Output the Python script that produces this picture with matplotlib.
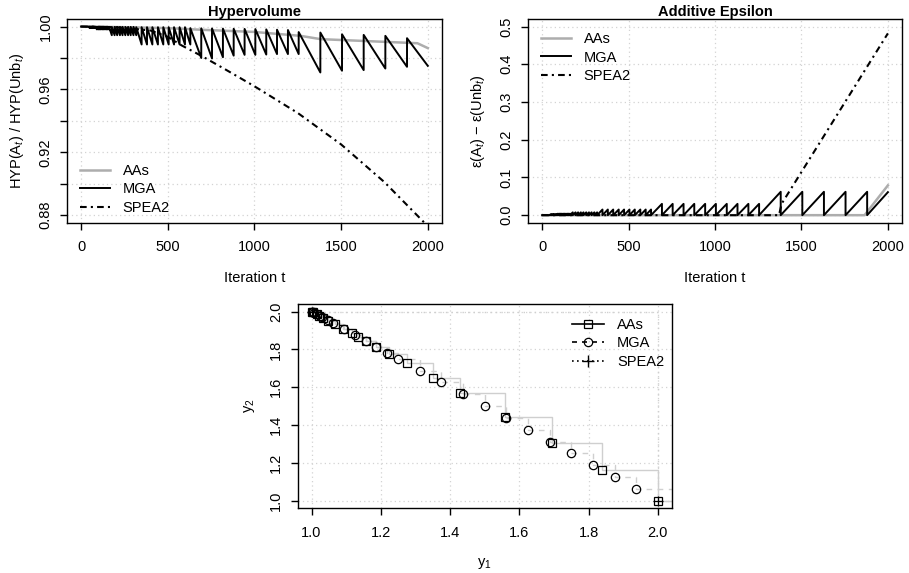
import matplotlib
matplotlib.use("Agg")
import matplotlib.pyplot as plt
from matplotlib.lines import Line2D

plt.rcParams['font.family'] = ['Liberation Sans', 'DejaVu Sans']
plt.rcParams['mathtext.fontset'] = 'custom'
plt.rcParams['mathtext.rm'] = 'Liberation Sans'
plt.rcParams['mathtext.it'] = 'Liberation Sans:italic'
plt.rcParams['font.size'] = 10.5

# ---------------------------------------------------------------- data
# MGA archive rebuilds (grid coarsening), one list of iterations per grid level
mga_jumps_l5 = [44, 48, 52, 56, 60, 64, 67, 71, 75, 79, 83]
mga_jumps_l4 = [83, 91, 99, 107, 114, 122, 130, 138, 146, 153, 161]
mga_jumps_l3 = [161, 177, 193, 208, 224, 239, 255, 271, 286, 302, 318]
mga_jumps_l2 = [318, 349, 380, 411, 443, 474, 505, 536, 568, 599, 630]
mga_jumps_l1 = [630, 693, 755, 818, 880, 943, 1005, 1068, 1130, 1193, 1255]
mga_jumps_l0 = [1255, 1380, 1505, 1630, 1755, 1880, 2000]

# hypervolume ratio of MGA right after a rebuild (peak) and just before the next (trough)
mga_hv_peak_fine = [0.99995, 0.9999, 0.9998, 0.9996]      # levels 5..2
mga_hv_trough_fine = [0.9992, 0.9982, 0.9945, 0.9886]
mga_hv_peak_l1 = [0.9990, 0.9989, 0.9988, 0.9987, 0.9986, 0.9985, 0.9984, 0.9982, 0.9980, 0.9978]
mga_hv_trough_l1 = [0.9800, 0.9797, 0.9805, 0.9815, 0.9820, 0.9820, 0.9822, 0.9825, 0.9825, 0.9825]
mga_hv_peak_l0 = [0.9965, 0.9962, 0.9951, 0.9947, 0.9941, 0.9926]
mga_hv_trough_l0 = [0.9708, 0.9719, 0.9723, 0.9733, 0.9744, 0.9750]

# additive epsilon of MGA just before each rebuild
mga_eps_height_fine = [0.002, 0.004, 0.0075, 0.015]     # levels 5..2
mga_eps_height_l1 = [0.030, 0.030, 0.030, 0.030, 0.030, 0.030, 0.030, 0.030, 0.030, 0.030]
mga_eps_height_l0 = [0.062, 0.062, 0.062, 0.062, 0.062, 0.061]

# AAs and SPEA2 indicator curves (iteration, value)
aas_hv_t = [0, 250, 500, 706, 996, 1265, 1382, 1661, 1940, 2000]
aas_hv_v = [1.0, 0.9996, 0.9990, 0.9979, 0.9966, 0.9941, 0.9920, 0.9907, 0.9894, 0.9863]
spea_hv_t = [0, 200, 400, 500, 580, 700, 820, 1000, 1250, 1500, 1750, 2000]
spea_hv_v = [1.0, 0.9996, 0.9975, 0.9935, 0.9880, 0.9810, 0.9735, 0.9620, 0.9450, 0.9250, 0.9010, 0.8730]

aas_eps_t = [0, 1865, 2000]
aas_eps_v = [0.0, 0.0, 0.079]
spea_eps_t = [0, 1370, 1385, 2000]
spea_eps_v = [0.0, 0.0, 0.030, 0.482]

# final archives in objective space
aas_y1 = [1.0, 1.005, 1.0145, 1.022, 1.032, 1.048, 1.067, 1.092, 1.1156, 1.135, 1.156,
          1.186, 1.2245, 1.2746, 1.3516, 1.4287, 1.5597, 1.6956, 1.840, 2.0]
aas_y2 = [2.0, 1.995, 1.9855, 1.978, 1.968, 1.952, 1.933, 1.908, 1.8844, 1.865, 1.844,
          1.814, 1.7755, 1.7254, 1.6484, 1.5713, 1.4403, 1.3044, 1.160, 1.0]
mga_y1 = [1.0, 1.004, 1.008, 1.0156, 1.0234, 1.03125, 1.0469, 1.0625, 1.09375, 1.125,
          1.15625, 1.1875, 1.21875, 1.25, 1.3125, 1.375, 1.4375, 1.5, 1.5625, 1.625,
          1.6875, 1.75, 1.8125, 1.875, 1.9375]
mga_y2 = [2.0, 1.996, 1.992, 1.9844, 1.9766, 1.96875, 1.9531, 1.9375, 1.90625, 1.875,
          1.84375, 1.8125, 1.78125, 1.75, 1.6875, 1.625, 1.5625, 1.5, 1.4375, 1.375,
          1.3125, 1.25, 1.1875, 1.125, 1.0625]
spea_y1 = [1.0, 2.0]
spea_y2 = [2.0, 1.0]

series_names = ['AAs', 'MGA', 'SPEA2']

# ---------------------------------------------------------------- helpers
fine_jumps = [mga_jumps_l5, mga_jumps_l4, mga_jumps_l3, mga_jumps_l2]


def hv_sawtooth():
    t, v = [0, mga_jumps_l5[0]], [1.0, 0.99995]
    levels = [(j, [p] * (len(j) - 1), [q] * (len(j) - 1))
              for j, p, q in zip(fine_jumps, mga_hv_peak_fine, mga_hv_trough_fine)]
    levels += [(mga_jumps_l1, mga_hv_peak_l1, mga_hv_trough_l1),
               (mga_jumps_l0, mga_hv_peak_l0, mga_hv_trough_l0)]
    for jumps, peaks, troughs in levels:
        for i in range(len(jumps) - 1):
            t += [jumps[i], jumps[i + 1]]
            v += [peaks[i], troughs[i]]
    return t, v


def eps_sawtooth():
    t, v = [0, mga_jumps_l5[0]], [0.0, 0.0]
    levels = [(j, [h] * (len(j) - 1)) for j, h in zip(fine_jumps, mga_eps_height_fine)]
    levels += [(mga_jumps_l1, mga_eps_height_l1), (mga_jumps_l0, mga_eps_height_l0)]
    for jumps, heights in levels:
        for i in range(len(jumps) - 1):
            t += [jumps[i], jumps[i + 1]]
            v += [0.0, heights[i]]
    return t, v


GRID = '#D3D3D3'
GRAY = '#ADADAD'
STEP = '#CFCFCF'
DASHDOT = (0, (3.2, 2.0, 1.0, 2.0))


def r_style(ax):
    for s in ax.spines.values():
        s.set_linewidth(1.0)
    ax.tick_params(direction='out', length=5, width=1.0, labelsize=10.5)
    ax.tick_params(axis='x', pad=7.5)
    ax.tick_params(axis='y', pad=5.5, labelrotation=90)
    for lab in ax.get_yticklabels():
        lab.set_va('center')
    ax.grid(True, color=GRID, linestyle=(0, (1, 2.5)), linewidth=0.9)
    ax.set_axisbelow(True)


fig = plt.figure(figsize=(9.09, 5.73), dpi=100)

# ---------------------------------------------------------------- hypervolume
ax1 = fig.add_axes([0.0740, 0.6113, 0.4119, 0.3555])
ax1.set_xlim(-80, 2080)
ax1.set_ylim(0.8752, 1.0048)
ht, hv = hv_sawtooth()
ax1.plot(aas_hv_t, aas_hv_v, color=GRAY, lw=1.8, zorder=3)
ax1.plot(ht, hv, color='black', lw=1.4, zorder=4)
ax1.plot(spea_hv_t, spea_hv_v, color='black', lw=1.5, linestyle=DASHDOT, zorder=4)
ax1.set_xticks([0, 500, 1000, 1500, 2000])
yt = [0.88, 0.90, 0.92, 0.94, 0.96, 0.98, 1.00]
ax1.set_yticks(yt)
ax1.set_yticklabels(['0.88', '', '0.92', '', '0.96', '', '1.00'])
r_style(ax1)
ax1.set_title('Hypervolume', fontweight='bold', fontsize=10.5, pad=2)
ax1.set_xlabel('Iteration t', labelpad=12)
ax1.set_ylabel(r'HYP(A$_t$) / HYP(Unb$_t$)', labelpad=9)
h1 = [Line2D([], [], color=GRAY, lw=1.8),
      Line2D([], [], color='black', lw=1.4),
      Line2D([], [], color='black', lw=1.5, linestyle=DASHDOT)]
ax1.legend(h1, series_names, loc='lower left', bbox_to_anchor=(0.0, -0.025), frameon=False,
           handlelength=2.0, handletextpad=0.9, labelspacing=0.3, fontsize=10.5)

# ---------------------------------------------------------------- additive epsilon
ax2 = fig.add_axes([0.5812, 0.6113, 0.4108, 0.3555])
ax2.set_xlim(-80, 2080)
ax2.set_ylim(-0.02, 0.52)
et, ev = eps_sawtooth()
ax2.plot(aas_eps_t, aas_eps_v, color=GRAY, lw=1.8, zorder=3)
ax2.plot(et, ev, color='black', lw=1.4, zorder=4)
ax2.plot(spea_eps_t, spea_eps_v, color='black', lw=1.5, linestyle=DASHDOT, zorder=4)
ax2.set_xticks([0, 500, 1000, 1500, 2000])
ax2.set_yticks([0.0, 0.1, 0.2, 0.3, 0.4, 0.5])
ax2.set_yticklabels(['0.0', '0.1', '0.2', '0.3', '0.4', '0.5'])
r_style(ax2)
ax2.set_title('Additive Epsilon', fontweight='bold', fontsize=10.5, pad=2)
ax2.set_xlabel('Iteration t', labelpad=12)
ax2.set_ylabel('ε(A$_t$) − ε(Unb$_t$)', labelpad=9)
ax2.legend(h1, series_names, loc='upper left', bbox_to_anchor=(0.0, 1.0), frameon=False,
           handlelength=2.0, handletextpad=0.9, labelspacing=0.3, fontsize=10.5)

# ---------------------------------------------------------------- objective space
ax3 = fig.add_axes([0.3275, 0.1129, 0.4114, 0.3566])
ax3.set_xlim(0.96, 2.04)
ax3.set_ylim(0.96, 2.04)
ax3.plot(aas_y1 + [2.2], aas_y2 + [aas_y2[-1]], drawstyle='steps-post', color=STEP,
         lw=1.0, zorder=2)
ax3.plot(mga_y1 + [2.2], mga_y2 + [mga_y2[-1]], drawstyle='steps-post', color=STEP,
         lw=1.0, linestyle=(0, (4, 4)), zorder=2)
ax3.plot(spea_y1 + [2.2], spea_y2 + [spea_y2[-1]], drawstyle='steps-post', color=STEP,
         lw=1.0, linestyle=(0, (1, 3)), zorder=2)
ax3.plot(aas_y1, aas_y2, linestyle='none', marker='s', ms=5.5, mfc='none', mec='black',
         mew=0.9, zorder=4)
ax3.plot(mga_y1, mga_y2, linestyle='none', marker='o', ms=6, mfc='none', mec='black',
         mew=0.9, zorder=4)
ax3.plot(spea_y1, spea_y2, linestyle='none', marker='+', ms=7, mec='black', mew=0.9,
         zorder=5)
ticks = [1.0, 1.2, 1.4, 1.6, 1.8, 2.0]
ax3.set_xticks(ticks)
ax3.set_yticks(ticks)
ax3.set_xticklabels(['1.0', '1.2', '1.4', '1.6', '1.8', '2.0'])
ax3.set_yticklabels(['1.0', '1.2', '1.4', '1.6', '1.8', '2.0'])
r_style(ax3)
ax3.set_xlabel('y$_1$', labelpad=12)
ax3.set_ylabel('y$_2$', labelpad=9)
h3 = [Line2D([], [], color='black', lw=1.2, marker='s', ms=5.5, mfc='none', mew=0.9),
      Line2D([], [], color='black', lw=1.2, linestyle=(0, (3, 3)), marker='o', ms=6,
             mfc='none', mew=0.9),
      Line2D([], [], color='black', lw=1.2, linestyle=(0, (1, 2)), marker='+', ms=8,
             mew=1.0)]
ax3.legend(h3, series_names, loc='upper right', bbox_to_anchor=(1.015, 0.995), frameon=False,
           handlelength=2.2, handletextpad=0.9, labelspacing=0.3, fontsize=10.5)

fig.savefig('out.png', dpi=100)
